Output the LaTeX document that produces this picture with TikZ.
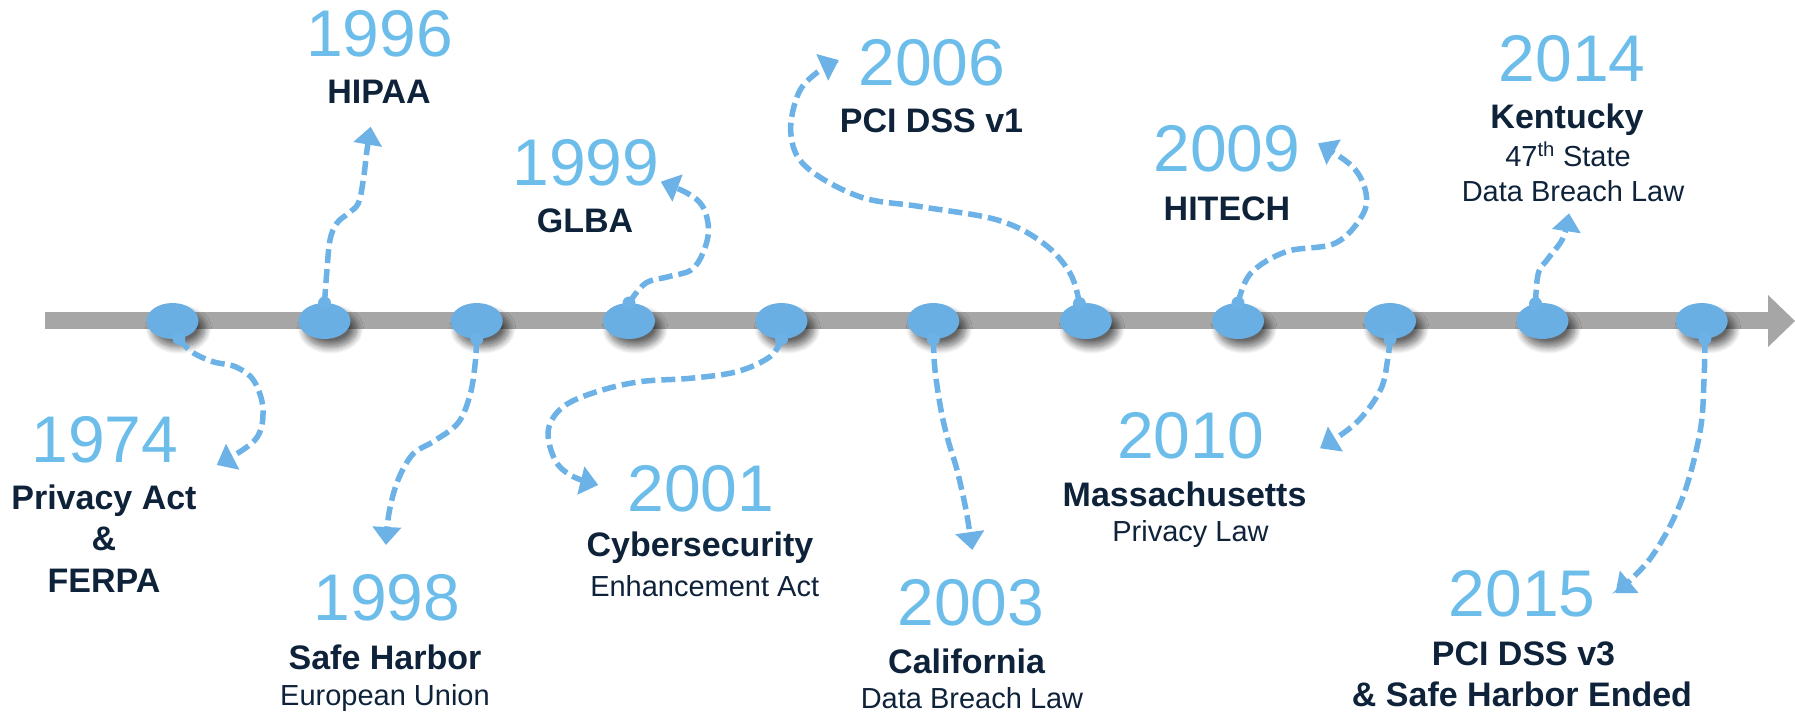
\documentclass[tikz,border=0pt]{standalone}
\usepackage{fontspec}
\setmainfont{Liberation Sans}
\usetikzlibrary{shapes.geometric,arrows.meta,shadows.blur}

\definecolor{dotblue}{HTML}{6AAFE3}
\definecolor{linkblue}{HTML}{6CB2E6}
\definecolor{yearblue}{HTML}{6DBDEB}
\definecolor{navy}{HTML}{0E223A}
\definecolor{axisgray}{HTML}{A6A6A6}

\tikzset{
  dot/.style={ellipse, fill=dotblue, minimum width=52pt, minimum height=36pt,
    inner sep=0pt, outer sep=0pt,
    blur shadow={shadow xshift=6pt, shadow yshift=-8pt, shadow blur radius=7pt,
      shadow opacity=60, shadow blur steps=12}},
  conn/.style={draw=linkblue, line width=5.5pt, dash pattern=on 14pt off 6pt,
    -{Triangle[length=18pt,width=28pt]}},
  knob/.style={fill=linkblue},
  yr/.style={font=\fontsize{66}{66}\selectfont, text=yearblue, anchor=base, inner sep=0pt},
  ttl/.style={font=\bfseries\fontsize{34}{34}\selectfont, text=navy, anchor=base, inner sep=0pt},
  sub/.style={font=\fontsize{29}{29}\selectfont, text=navy, anchor=base, inner sep=0pt},
}

\begin{document}
\begin{tikzpicture}[x=1pt, y=-1pt]
\useasboundingbox (0,0) rectangle (1795,713);

% time axis
\fill[axisgray] (45,312) rectangle (1768,329);
\fill[axisgray] (1768,295) -- (1795,321) -- (1768,347) -- cycle;

% milestones on the axis
\node[dot] (e1)  at (172.5,321) {};
\node[dot] (e2)  at (324.5,321) {};
\node[dot] (e3)  at (476.7,321) {};
\node[dot] (e4)  at (629,321) {};
\node[dot] (e5)  at (781.5,321) {};
\node[dot] (e6)  at (933.3,321) {};
\node[dot] (e7)  at (1085.8,321) {};
\node[dot] (e8)  at (1238,321) {};
\node[dot] (e9)  at (1390,321) {};
\node[dot] (e10) at (1542.5,321) {};
\node[dot] (e11) at (1701.7,321) {};

% arrow tips of the connectors
\coordinate (t1)  at (216.7,465);
\coordinate (t2)  at (370.7,126.7);
\coordinate (t3)  at (386,545);
\coordinate (t4)  at (660.7,181.7);
\coordinate (t5)  at (598.3,485);
\coordinate (t6)  at (972.3,550);
\coordinate (t7)  at (838.7,60);
\coordinate (t8)  at (1318,143.3);
\coordinate (t9)  at (1320,448.3);
\coordinate (t10) at (1569,213.3);
\coordinate (t11) at (1615.4,593.3);

% small knobs where the connectors leave the milestones
\foreach \a in {e1.-70, e2.north, e3.south, e4.north, e5.south, e6.south,
                e7.110, e8.north, e9.south, e10.112, e11.-80}
  \fill[knob] (\a) circle (6.5pt);

% connectors
\draw[conn] plot[smooth, tension=0.6] coordinates {(e1.-70) (192,352) (213,361.7) (236,367) (254,381) (263,410) (255,440) (t1)};
\draw[conn] plot[smooth, tension=0.6] coordinates {(e2.north) (326.7,273.3) (330,240) (337,223) (348.3,213.3) (358.3,203.3) (363.3,180) (367,150) (t2)};
\draw[conn] plot[smooth, tension=0.6] coordinates {(e3.south) (475,365) (470,395) (458,423) (433,441.7) (413,454) (398,480) (389,513) (t3)};
\draw[conn] plot[smooth, tension=0.6] coordinates {(e4.north) (645.4,283.3) (668.4,276.7) (691,270) (702.8,253.3) (708.5,230) (702.8,206.7) (687.5,193.3) (t4)};
\draw[conn] plot[smooth, tension=0.6] coordinates {(e5.south) (770,356.7) (736.7,371.7) (690,378.3) (640,381.7) (596.7,391.7) (563.3,406.7) (548.3,430) (555,460) (572,476) (t5)};
\draw[conn] plot[smooth, tension=0.6] coordinates {(e6.south) (935,370) (941,410) (948,440) (957,470) (966,510) (t6)};
\draw[conn] plot[smooth, tension=0.6] coordinates {(e7.110) (1070,273) (1043,243) (997.5,220) (921,206.7) (859.7,196.7) (806,166.7) (790.8,133.3) (798.5,93.3) (817.6,72) (t7)};
\draw[conn] plot[smooth, tension=0.6] coordinates {(e8.north) (1250.7,273.3) (1286,251.7) (1335,243.3) (1361.5,216.7) (1366,193.3) (1352.6,166.7) (t8)};
\draw[conn] plot[smooth, tension=0.6] coordinates {(e9.south) (1387.6,360) (1380.4,390) (1356,423) (t9)};
\draw[conn] plot[smooth, tension=0.6] coordinates {(e10.112) (1538.3,273.3) (1548.3,258.3) (1563,238) (t10)};
\draw[conn] plot[smooth, tension=0.6] coordinates {(e11.-80) (1704,380) (1699.8,433) (1681.7,500) (1651.6,556.7) (t11)};

% labels
\node[yr]  (y1974) at (105,462) {1974};
\node[ttl] (a1974) at (104,509) {Privacy Act};
\node[ttl] (b1974) at (104,550) {\&};
\node[ttl] (c1974) at (104,592) {FERPA};

\node[yr]  (y1996) at (379.5,56) {1996};
\node[ttl] (a1996) at (379,103.3) {HIPAA};

\node[yr]  (y1998) at (387,620.7) {1998};
\node[ttl] (a1998) at (385,669) {Safe Harbor};
\node[sub] (b1998) at (385,705.7) {European Union};

\node[yr]  (y1999) at (586,185) {1999};
\node[ttl] (a1999) at (585,232.3) {GLBA};

\node[yr]  (y2001) at (701,511.7) {2001};
\node[ttl] (a2001) at (700,556.7) {Cybersecurity};
\node[sub] (b2001) at (704.7,596.7) {Enhancement Act};

\node[yr]  (y2003) at (971,625) {2003};
\node[ttl] (a2003) at (966.6,673.3) {California};
\node[sub] (b2003) at (972,708) {Data Breach Law};

\node[yr]  (y2006) at (932,85) {2006};
\node[ttl] (a2006) at (931.5,132.7) {PCI DSS v1};

\node[yr]  (y2009) at (1227,171.7) {2009};
\node[ttl] (a2009) at (1227,220) {HITECH};

\node[yr]  (y2010) at (1190.5,458.3) {2010};
\node[ttl] (a2010) at (1184.6,506.7) {Massachusetts};
\node[sub] (b2010) at (1190.5,541) {Privacy Law};

\node[yr]  (y2014) at (1572,81) {2014};
\node[ttl] (a2014) at (1567,128.3) {Kentucky};
\node[sub] (b2014) at (1568,166) {47\textsuperscript{th} State};
\node[sub] (c2014) at (1573,201) {Data Breach Law};

\node[yr]  (y2015) at (1522,616.7) {2015};
\node[ttl] (a2015) at (1523.5,665) {PCI DSS v3};
\node[ttl] (b2015) at (1522,706.7) {\& Safe Harbor Ended};
\end{tikzpicture}
\end{document}
